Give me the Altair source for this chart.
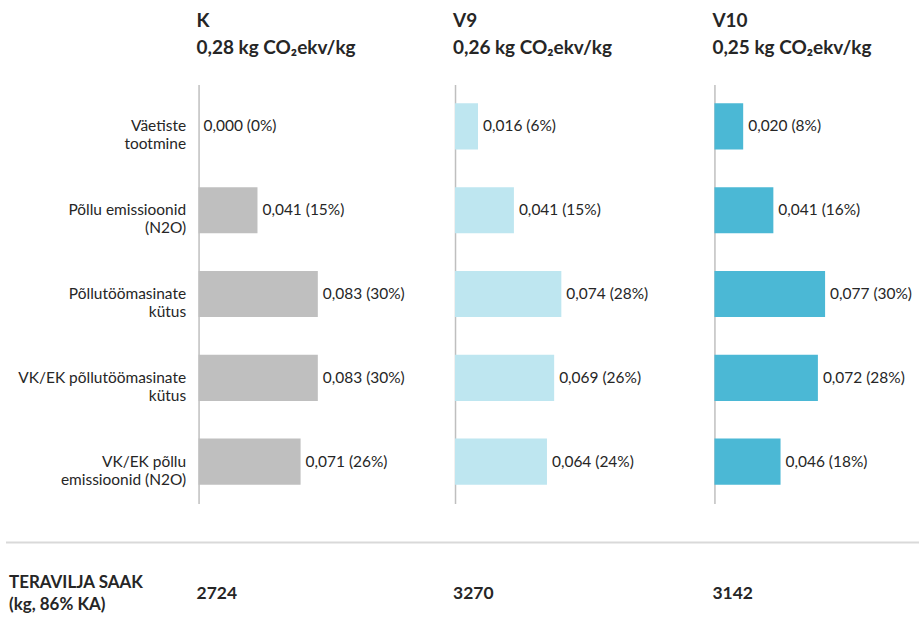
import altair as alt
import pandas as pd

FONT = "Lato"
TEXT_COLOR = "#262626"

# Emission sources (the "|" marks a line break in the axis label)
categories = [
    "Väetiste|tootmine",
    "Põllu emissioonid|(N2O)",
    "Põllutöömasinate|kütus",
    "VK/EK põllutöömasinate|kütus",
    "VK/EK põllu|emissioonid (N2O)",
]

scenarios = ["K", "V9", "V10"]
totals = ["0,28", "0,26", "0,25"]

# kg CO2 eq per kg of grain, and share of the total (%)
values_K = [0.000, 0.041, 0.083, 0.083, 0.071]
pct_K = [0, 15, 30, 30, 26]
values_V9 = [0.016, 0.041, 0.074, 0.069, 0.064]
pct_V9 = [6, 15, 28, 26, 24]
values_V10 = [0.020, 0.041, 0.077, 0.072, 0.046]
pct_V10 = [8, 16, 30, 28, 18]

# Grain yield (kg, 86% dry matter)
yields = [2724, 3270, 3142]

colors = ["#bfbfbf", "#bee6f0", "#4bb8d5"]

series_values = [values_K, values_V9, values_V10]
series_pct = [pct_K, pct_V9, pct_V10]

PX_PER_UNIT = 1440  # shared horizontal scale across the three panels
PLOT_H = 420
widths = [226, 229, 190]
LABEL_SIZE = 15.5


def fmt(v, p):
    return f"{v:.3f}".replace(".", ",") + f" ({p}%)"


def panel(i):
    w = widths[i]
    df = pd.DataFrame({
        "category": categories,
        "value": series_values[i],
        "label": [fmt(v, p) for v, p in zip(series_values[i], series_pct[i])],
    })
    x = alt.X("value:Q", axis=None,
              scale=alt.Scale(domain=[0, w / PX_PER_UNIT], nice=False, zero=True))
    y = alt.Y(
        "category:N", sort=categories,
        scale=alt.Scale(paddingInner=0.45, paddingOuter=0.225),
        axis=alt.Axis(
            title=None, labels=(i == 0), ticks=False, grid=False,
            domain=True, domainColor="#bfbfbf", domainWidth=1.5,
            labelExpr="split(datum.label, '|')", labelAlign="right",
            labelBaseline="middle", labelPadding=13, labelFontSize=LABEL_SIZE,
            labelColor=TEXT_COLOR, labelLineHeight=18, labelLimit=300,
            labelFont=FONT,
        ),
    )
    base = alt.Chart(df)
    bars = base.mark_bar(color=colors[i]).encode(x=x, y=y)
    labels = base.mark_text(
        align="left", baseline="middle", dx=5, fontSize=LABEL_SIZE,
        color=TEXT_COLOR, font=FONT,
    ).encode(x=x, y=y, text="label:N")

    ydf = pd.DataFrame({"yield": [str(yields[i])]})
    yield_text = alt.Chart(ydf).mark_text(
        align="left", baseline="middle", dx=-2, fontSize=17.5,
        fontWeight="bold", color=TEXT_COLOR, font=FONT,
    ).encode(x=alt.datum(0), y=alt.value(PLOT_H + 91), text="yield:N")

    layers = [bars, labels, yield_text]

    if i == 0:
        sep = alt.Chart(ydf).mark_rule(color="#d9d9d9", strokeWidth=2).encode(
            x=alt.value(-193), x2=alt.value(722), y=alt.value(PLOT_H + 39)
        )
        row_title = alt.Chart(ydf).mark_text(
            align="left", baseline="middle", fontSize=17, fontWeight="bold",
            color=TEXT_COLOR, font=FONT, lineBreak="|", lineHeight=22,
        ).encode(
            x=alt.value(-190), y=alt.value(PLOT_H + 80),
            text=alt.value("TERAVILJA SAAK|(kg, 86% KA)"),
        )
        layers = [sep, row_title] + layers

    return alt.layer(*layers).properties(
        width=w, height=PLOT_H,
        title=alt.TitleParams(
            text=[scenarios[i], f"{totals[i]} kg CO₂ekv/kg"],
            anchor="start", frame="group", fontSize=19, fontWeight="bold",
            color=TEXT_COLOR, font=FONT, lineHeight=27, offset=27, dx=-2,
        ),
    )


chart = alt.hconcat(panel(0), panel(1), panel(2), spacing=31, bounds="flush").properties(
    padding={"left": 5, "top": 11, "right": 0, "bottom": 0}
).configure_view(stroke=None)

chart.save("out.html", embed_options={"renderer": "svg", "actions": False})
